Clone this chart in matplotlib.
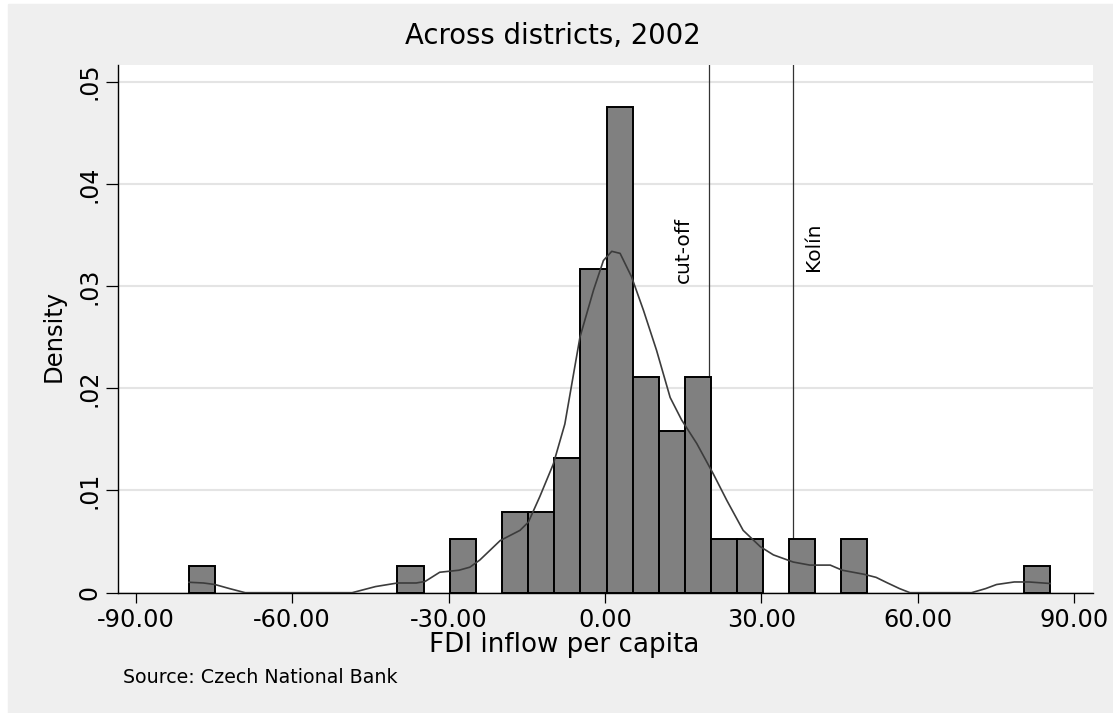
import matplotlib.pyplot as plt
from matplotlib.patches import Rectangle

# histogram bins (left edge, density)
bin_left = [-79.85, -39.8, -29.8, -19.8, -14.8, -9.75, -4.7, 0.3, 5.3, 10.3,
            15.3, 20.3, 25.3, 35.3, 45.3, 80.35]
bin_density = [0.00264, 0.00264, 0.00528, 0.00793, 0.00793, 0.01321, 0.0317,
               0.04756, 0.02113, 0.01585, 0.02113, 0.00528, 0.00528, 0.00528,
               0.00528, 0.00264]
bin_width = 5.0

# kernel density curve
kde_x = [-79.8, -77, -74.8, -72, -69, -48.5, -44, -39.8, -36.2, -34.5, -31.7,
         -28, -25.9, -24, -20.1, -16.3, -14.7, -12.5, -9.9, -7.7, -4.8, -2.2,
         -0.3, 1.3, 2.9, 5.1, 7.4, 9.9, 12.5, 14.7, 17.6, 20.8, 23.4, 26.5,
         29.8, 32.3, 36.1, 39.3, 43.2, 45.5, 49.7, 52, 54, 56.5, 58.5, 70.3,
         73, 75.1, 78.5, 81.3, 85.4]
kde_y = [0.00102, 0.00095, 0.0008, 0.0004, 0.0, 0.0, 0.0006, 0.00095, 0.00095,
         0.0011, 0.002, 0.0022, 0.0025, 0.0032, 0.0051, 0.0061, 0.0069,
         0.0094, 0.0126, 0.0165, 0.025, 0.0296, 0.0325, 0.0334, 0.0332,
         0.0309, 0.0276, 0.0237, 0.0191, 0.0169, 0.0146, 0.0116, 0.009,
         0.0061, 0.0045, 0.0037, 0.003, 0.0027, 0.0027, 0.0022, 0.0018,
         0.0015, 0.001, 0.0004, 0.0, 0.0, 0.0004, 0.0008, 0.00105, 0.00105,
         0.0009]

cutoff_x = 20.0
kolin_x = 36.0

xticks = [-90, -60, -30, 0, 30, 60, 90]
yticks = [0, 0.01, 0.02, 0.03, 0.04, 0.05]
ytick_labels = ['0', '.01', '.02', '.03', '.04', '.05']

W, H = 1113, 713
fig = plt.figure(figsize=(W / 100, H / 100), dpi=100)
fig.patch.set_facecolor('white')
fig.add_artist(Rectangle((8 / W, 0), 1 - 8 / W, (H - 4) / H,
                         transform=fig.transFigure, color='#efefef', zorder=-1))

ax = fig.add_axes([118 / W, (H - 592.7) / H, (1093 - 118) / W, (592.7 - 65) / H])
ax.set_facecolor('white')

ax.axvline(cutoff_x, color='#333333', lw=0.9, zorder=1)
ax.axvline(kolin_x, color='#333333', lw=0.9, zorder=1)

ax.bar(bin_left, bin_density, width=bin_width, align='edge',
       color='#808080', edgecolor='black', linewidth=1.4, zorder=2)
ax.plot(kde_x, kde_y, color='#3c3c3c', lw=1.2, zorder=3)

ax.text(15.0, 0.0335, 'cut-off', rotation=90, ha='center', va='center', fontsize=14.5)
ax.text(40.0, 0.0338, 'Kolín', rotation=90, ha='center', va='center', fontsize=14.5)

ax.set_xlim(-93.4, 93.6)
ax.set_ylim(0, 0.05163)
ax.set_xticks(xticks)
ax.set_xticklabels(['%.2f' % v for v in xticks])
ax.set_yticks(yticks)
ax.set_yticklabels(ytick_labels)
ax.tick_params(axis='x', length=7.2, width=0.9, pad=4.0, labelsize=17.3)
ax.tick_params(axis='y', length=8.4, width=0.9, pad=3.5, labelsize=17, labelrotation=90)
for lab in ax.get_yticklabels():
    lab.set_va('center')

ax.grid(axis='y', color='#e4e4e4', lw=1.5)
ax.set_axisbelow(True)
for s in ['top', 'right']:
    ax.spines[s].set_visible(False)
for s in ['left', 'bottom']:
    ax.spines[s].set_linewidth(1.0)

ax.set_xlabel('FDI inflow per capita', fontsize=18.8)
ax.xaxis.set_label_coords(0.4574, -0.1118)
ax.xaxis.label.set_va('baseline')
ax.set_ylabel('Density', fontsize=17.5)
ax.yaxis.set_label_coords(-0.054, 0.486)

ax.set_title('Across districts, 2002', fontsize=19.8, x=0.4456, y=1.024)

fig.text(122.7 / W, (H - 683.3) / H, 'Source: Czech National Bank',
         fontsize=13.7, ha='left', va='baseline')

fig.savefig('out.png', dpi=100)
